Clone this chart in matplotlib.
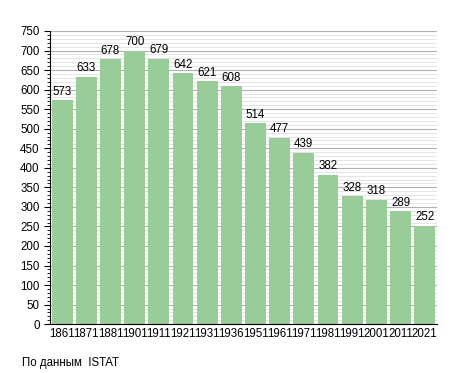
import matplotlib as mpl
mpl.use('Agg')
import matplotlib.pyplot as plt
from matplotlib.ticker import MultipleLocator

years = ['1861', '1871', '1881', '1901', '1911', '1921', '1931', '1936',
         '1951', '1961', '1971', '1981', '1991', '2001', '2011', '2021']
population = [573, 633, 678, 700, 679, 642, 621, 608,
              514, 477, 439, 382, 328, 318, 289, 252]

plt.rcParams['font.family'] = ['Liberation Sans', 'DejaVu Sans']

fig = plt.figure(figsize=(4.55, 3.73), dpi=100)
ax = fig.add_axes([0.110, 0.131, 0.850, 0.786])

x = range(len(years))
ax.bar(x, population, width=0.86, color='#99cc99', zorder=2)
for i, v in zip(x, population):
    ax.text(i, v + 6, str(v), ha='center', va='bottom', fontsize=8.3, zorder=3)

ax.set_xlim(-0.5, len(years) - 0.5)
ax.set_ylim(0, 750)
ax.yaxis.set_major_locator(MultipleLocator(50))
ax.yaxis.set_minor_locator(MultipleLocator(10))
ax.grid(axis='y', which='major', color='#b0b0b0', linewidth=0.8, zorder=0)
ax.grid(axis='y', which='minor', color='#e0e0e0', linewidth=0.6, zorder=0)
ax.set_xticks(list(x))
ax.set_xticklabels(years, fontsize=8.3)
ax.tick_params(axis='y', labelsize=8.3, length=4, width=0.8)
ax.tick_params(axis='y', which='minor', length=2, width=0.6)
ax.tick_params(axis='x', length=0, pad=3)
for s in ['top', 'right']:
    ax.spines[s].set_visible(False)

fig.text(0.048, 0.018, 'По данным  ISTAT', fontsize=8.3)

fig.savefig('out.png', dpi=100)
